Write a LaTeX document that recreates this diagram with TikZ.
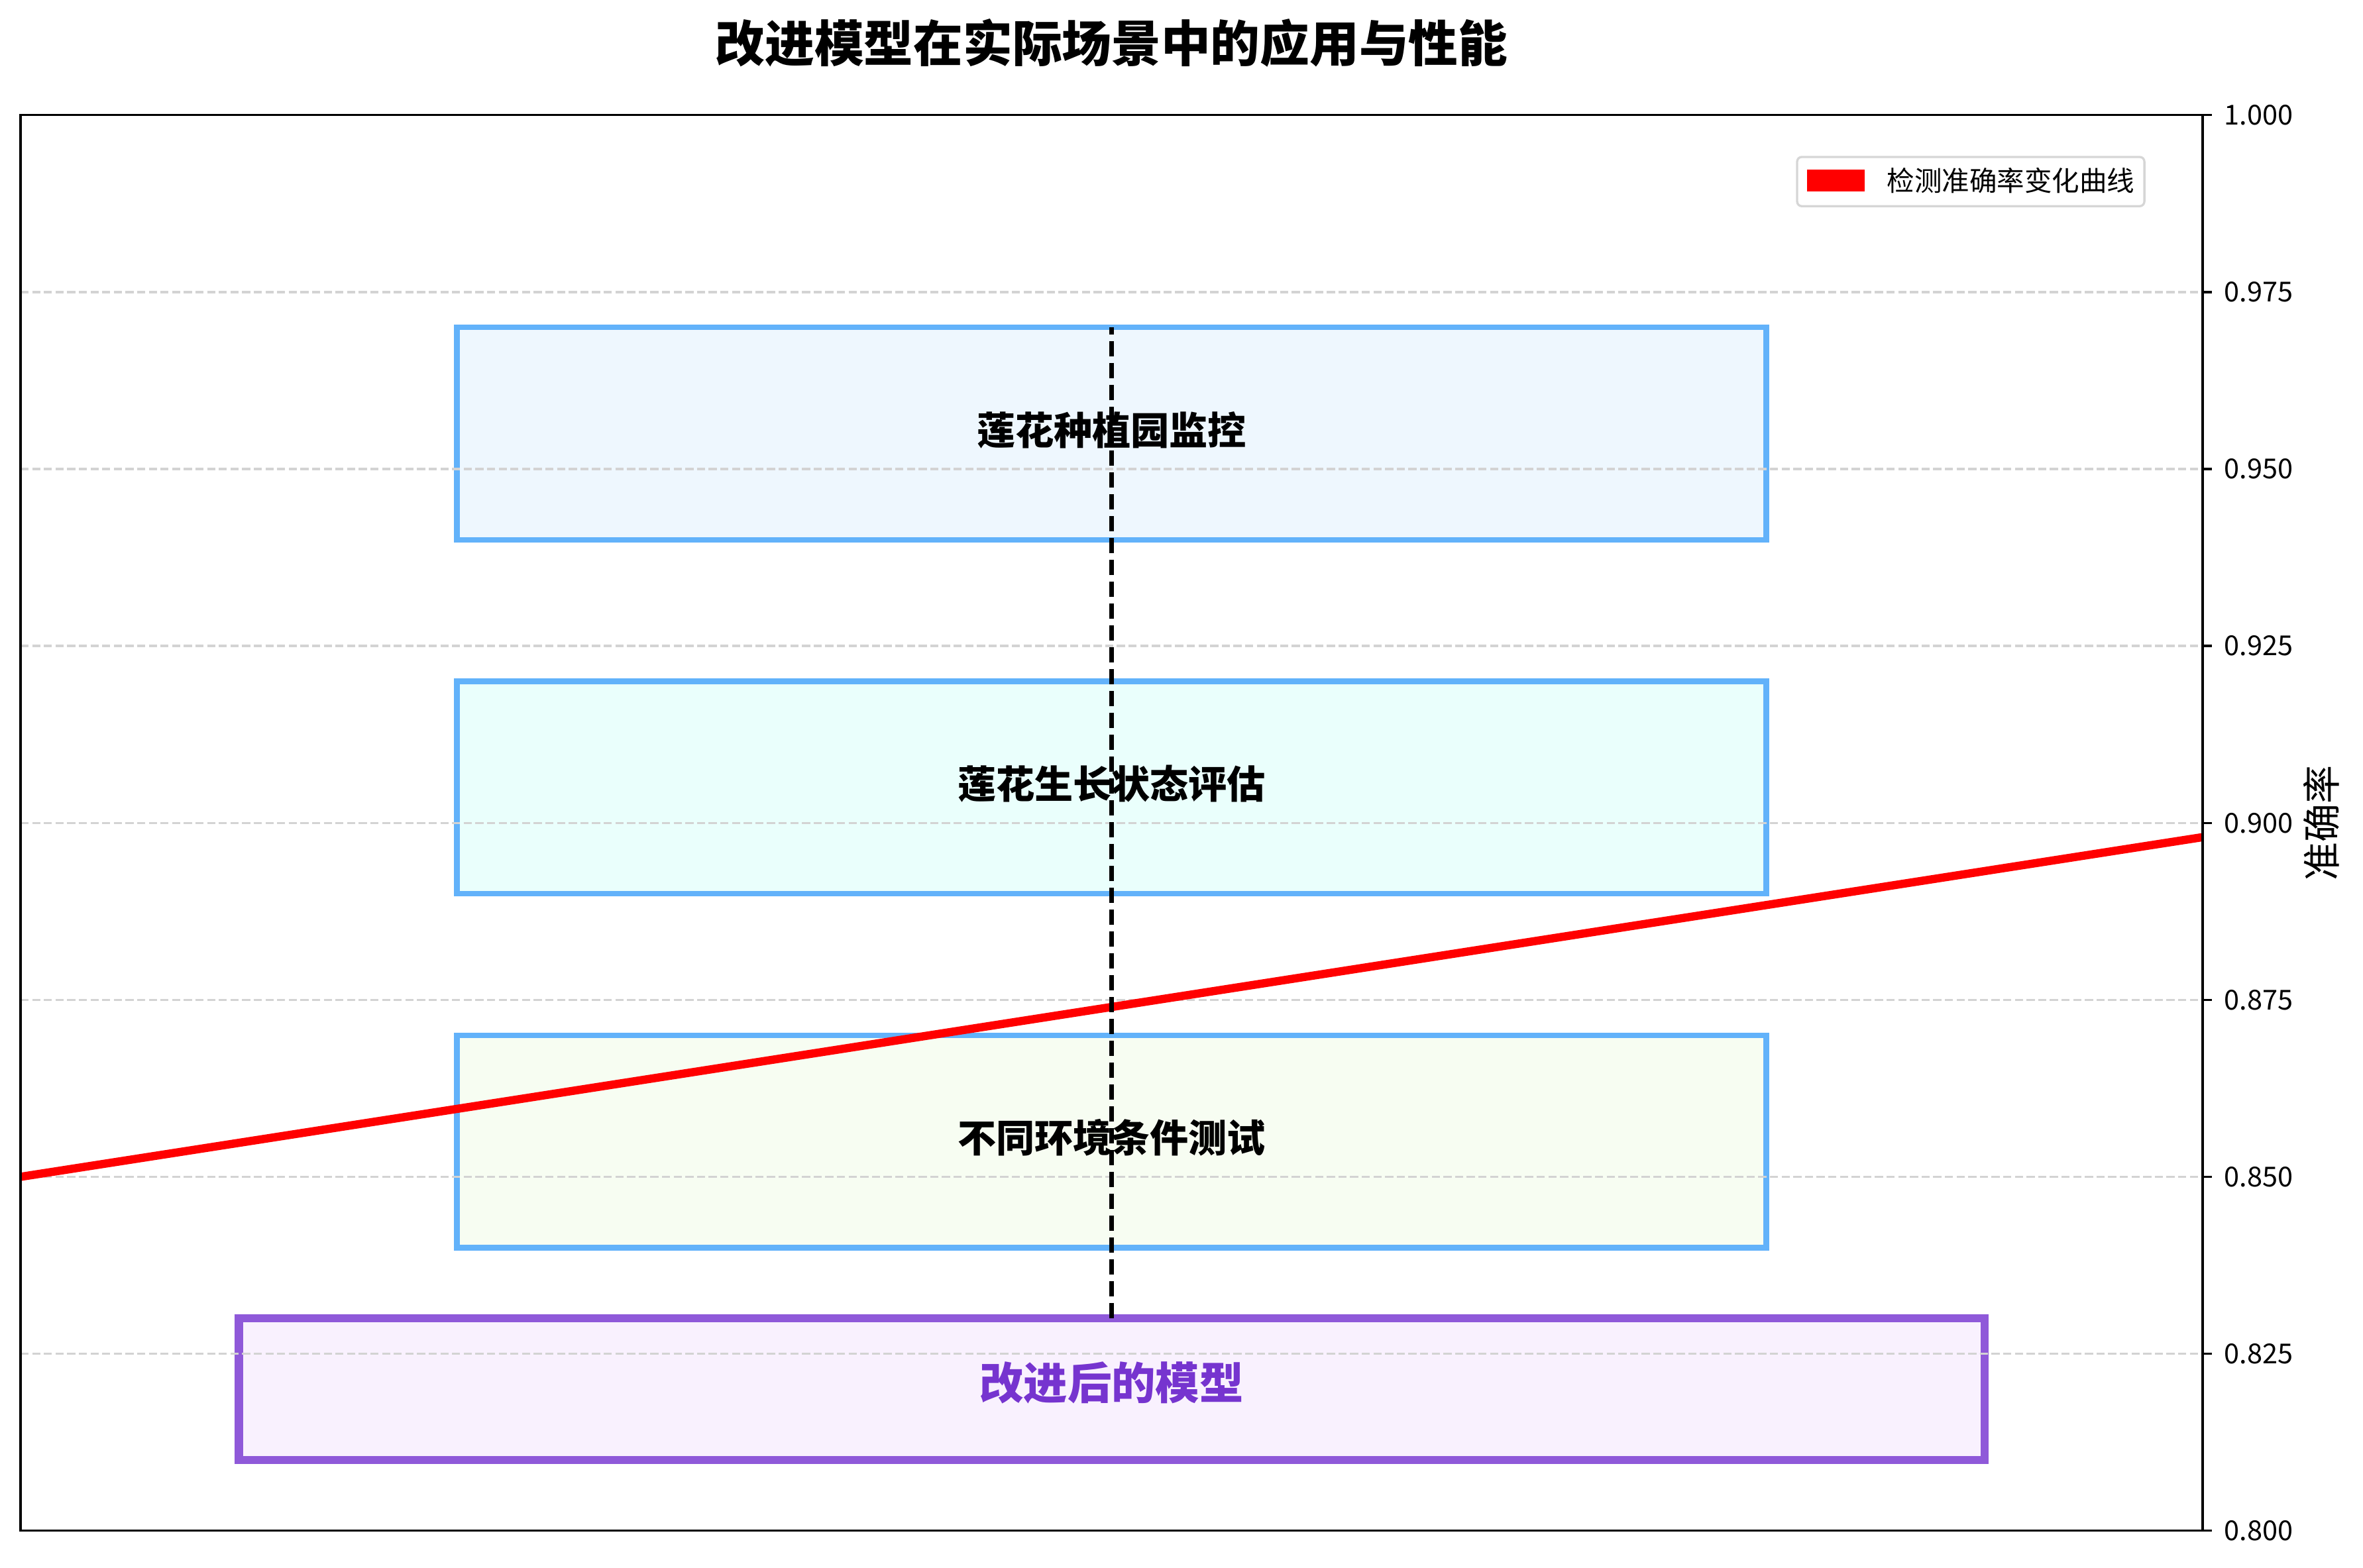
\documentclass[tikz,border=0pt]{standalone}
\usepackage{fontspec}
\setmainfont{Noto Sans CJK SC}
\usepackage{tikz}
\usetikzlibrary{positioning}
\definecolor{boxedge}{HTML}{62B2FA}
\definecolor{monfill}{HTML}{EEF7FE}
\definecolor{growfill}{HTML}{EAFFFC}
\definecolor{envfill}{HTML}{F7FDF2}
\definecolor{modeledge}{HTML}{8F59D9}
\definecolor{modelfill}{HTML}{F9F1FE}
\definecolor{modeltext}{HTML}{7634CF}
\definecolor{gridgray}{HTML}{D3D3D3}
\definecolor{legedge}{HTML}{D6D6D6}

\begin{document}
\begin{tikzpicture}[x=2.7881cm, y=90.466cm,
  scenario/.style={draw=boxedge, line width=2pt, minimum width=16.729cm, minimum height=2.714cm,
    inner sep=0pt, outer sep=0pt, text height=0.88em, text depth=0.07em, font=\fontsize{14}{17}\selectfont\bfseries},
  modelbox/.style={draw=modeledge, fill=modelfill, line width=3pt, minimum width=22.305cm, minimum height=1.809cm,
    inner sep=0pt, outer sep=0pt, text height=0.88em, text depth=0.12em, text=modeltext, font=\fontsize{16}{19}\selectfont\bfseries},
  gridline/.style={gridgray, line width=0.8pt, dash pattern=on 2.96pt off 1.28pt},
  accline/.style={red, line width=3pt},
  link/.style={black, line width=1.5pt, dash pattern=on 5.55pt off 2.4pt},
  axisline/.style={black, line width=0.8pt},
  ticklabel/.style={right, inner sep=0pt, xshift=0.144cm, font=\fontsize{10}{12}\selectfont}]
\useasboundingbox (-0.0941,0.79476) rectangle (10.735,1.01628);
% scenario boxes
\node[scenario, fill=monfill] (mon) at (5,0.955) {莲花种植园监控};
\node[scenario, fill=growfill] (grow) at (5,0.905) {莲花生长状态评估};
\node[scenario, fill=envfill] (env) at (5,0.855) {不同环境条件测试};
\node[modelbox] (model) at (5,0.82) {改进后的模型};
% grid
\foreach \v in {0.825,0.850,0.875,0.900,0.925,0.950,0.975}
  \draw[gridline] (0,\v) -- (10,\v);
% accuracy curve
\draw[accline] (0,0.85) -- (10,0.898);
% model to scenarios
\draw[link] (model.north) -- (mon.north);
% frame and right axis
\draw[axisline] (0,0.8) rectangle (10,1);
\foreach \v [count=\i] in {0.800,0.825,0.850,0.875,0.900,0.925,0.950,0.975,1.000}
  \draw[axisline] (10,\v) -- ++(0.1185cm,0) node[ticklabel] (tick\i) {\v};
\node[rotate=90, font=\fontsize{14}{17}\selectfont] (ylab) at (10.544,0.9) {准确率};
% title
\node[font=\fontsize{18}{22}\selectfont\bfseries] (title) at (5,1.0102) {改进模型在实际场景中的应用与性能};
% legend
\draw[legedge, line width=0.8pt, fill=white, rounded corners=0.06cm] (8.1416,0.98713) rectangle (9.733,0.99410);
\fill[red] (8.187,0.98924) rectangle (8.451,0.99233);
\node[right, inner sep=0pt, font=\fontsize{10}{12}\selectfont] (legtext) at (8.5515,0.99073) {检测准确率变化曲线};
\end{tikzpicture}
\end{document}
